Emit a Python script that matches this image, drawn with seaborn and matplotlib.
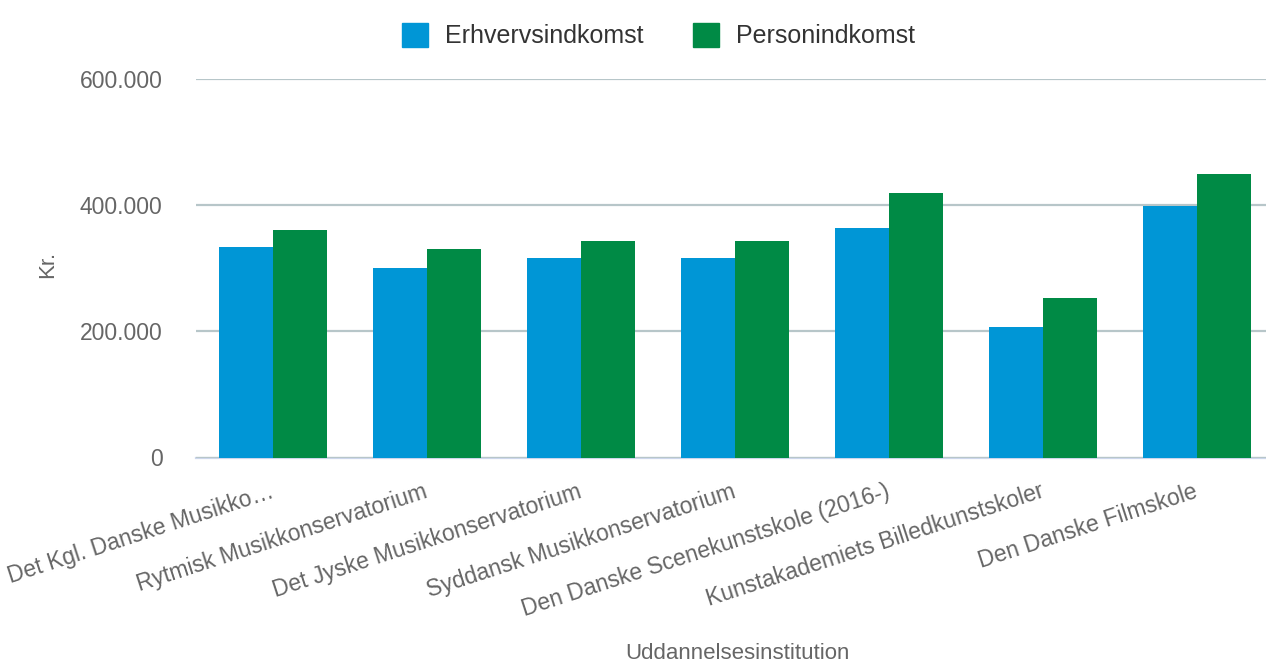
import pandas as pd
import matplotlib.pyplot as plt
import matplotlib.ticker as mticker
import seaborn as sns

# data
institutions = [
    'Det Kgl. Danske Musikko…',
    'Rytmisk Musikkonservatorium',
    'Det Jyske Musikkonservatorium',
    'Syddansk Musikkonservatorium',
    'Den Danske Scenekunstskole (2016-)',
    'Kunstakademiets Billedkunstskoler',
    'Den Danske Filmskole',
]
erhvervsindkomst = [333700, 299700, 316700, 316700, 364300, 207600, 398100]
personindkomst = [360600, 330500, 343600, 343600, 418700, 252100, 449500]
series = ['Erhvervsindkomst', 'Personindkomst']
colors = ['#0096d6', '#008a45']

df = pd.DataFrame({
    'Uddannelsesinstitution': institutions * 2,
    'Kr.': erhvervsindkomst + personindkomst,
    'serie': [series[0]] * len(institutions) + [series[1]] * len(institutions),
})

sns.set_theme(style='white')
plt.rcParams['font.family'] = ['Liberation Sans', 'DejaVu Sans']
text_col = '#666666'

fig = plt.figure(figsize=(12.66, 6.67), dpi=100)
ax = fig.add_axes([196 / 1266, 1 - 457.5 / 667, 1078 / 1266, (457.5 - 79) / 667])

sns.barplot(data=df, x='Uddannelsesinstitution', y='Kr.', hue='serie',
            hue_order=series, palette=colors, saturation=1, width=0.7,
            edgecolor='none', linewidth=0, ax=ax)

ax.set_xlim(-0.5, 6.5)
ax.set_ylim(0, 600000)
ax.set_yticks([0, 200000, 400000, 600000])
ax.yaxis.set_major_formatter(mticker.FuncFormatter(lambda v, p: f'{int(v):,}'.replace(',', '.')))
ax.grid(axis='y', color='#b7c6c9', linewidth=1.6)
ax.grid(axis='x', visible=False)
ax.set_axisbelow(True)
for s in ['top', 'right', 'left']:
    ax.spines[s].set_visible(False)
ax.spines['bottom'].set_color('#ccd6eb')
ax.spines['bottom'].set_linewidth(1.6)
ax.spines['bottom'].set_zorder(0.5)

ax.tick_params(axis='y', length=0, pad=24, labelsize=16.5, labelcolor=text_col)
ax.tick_params(axis='x', length=0, pad=24, labelsize=16.5, labelcolor=text_col)
for lbl in ax.get_xticklabels():
    lbl.set_rotation(18)
    lbl.set_ha('right')
    lbl.set_va('center')
    lbl.set_rotation_mode('anchor')

ax.set_xlabel('Uddannelsesinstitution', fontsize=16, color=text_col)
ax.xaxis.set_label_coords(0.502, -0.49)
ax.set_ylabel('Kr.', fontsize=16, color=text_col)
ax.yaxis.set_label_coords(-0.128, 0.509)

ax.get_legend().remove()
handles = [plt.Rectangle((0, 0), 1, 1, color=c) for c in colors]
fig.legend(handles, series, loc='upper center', bbox_to_anchor=(0.52, 1.0), ncol=2,
           frameon=False, fontsize=18, handlelength=1.05, handleheight=1.1,
           columnspacing=2.0, handletextpad=0.65, labelcolor='#333333')

fig.savefig('out.png', dpi=100)
